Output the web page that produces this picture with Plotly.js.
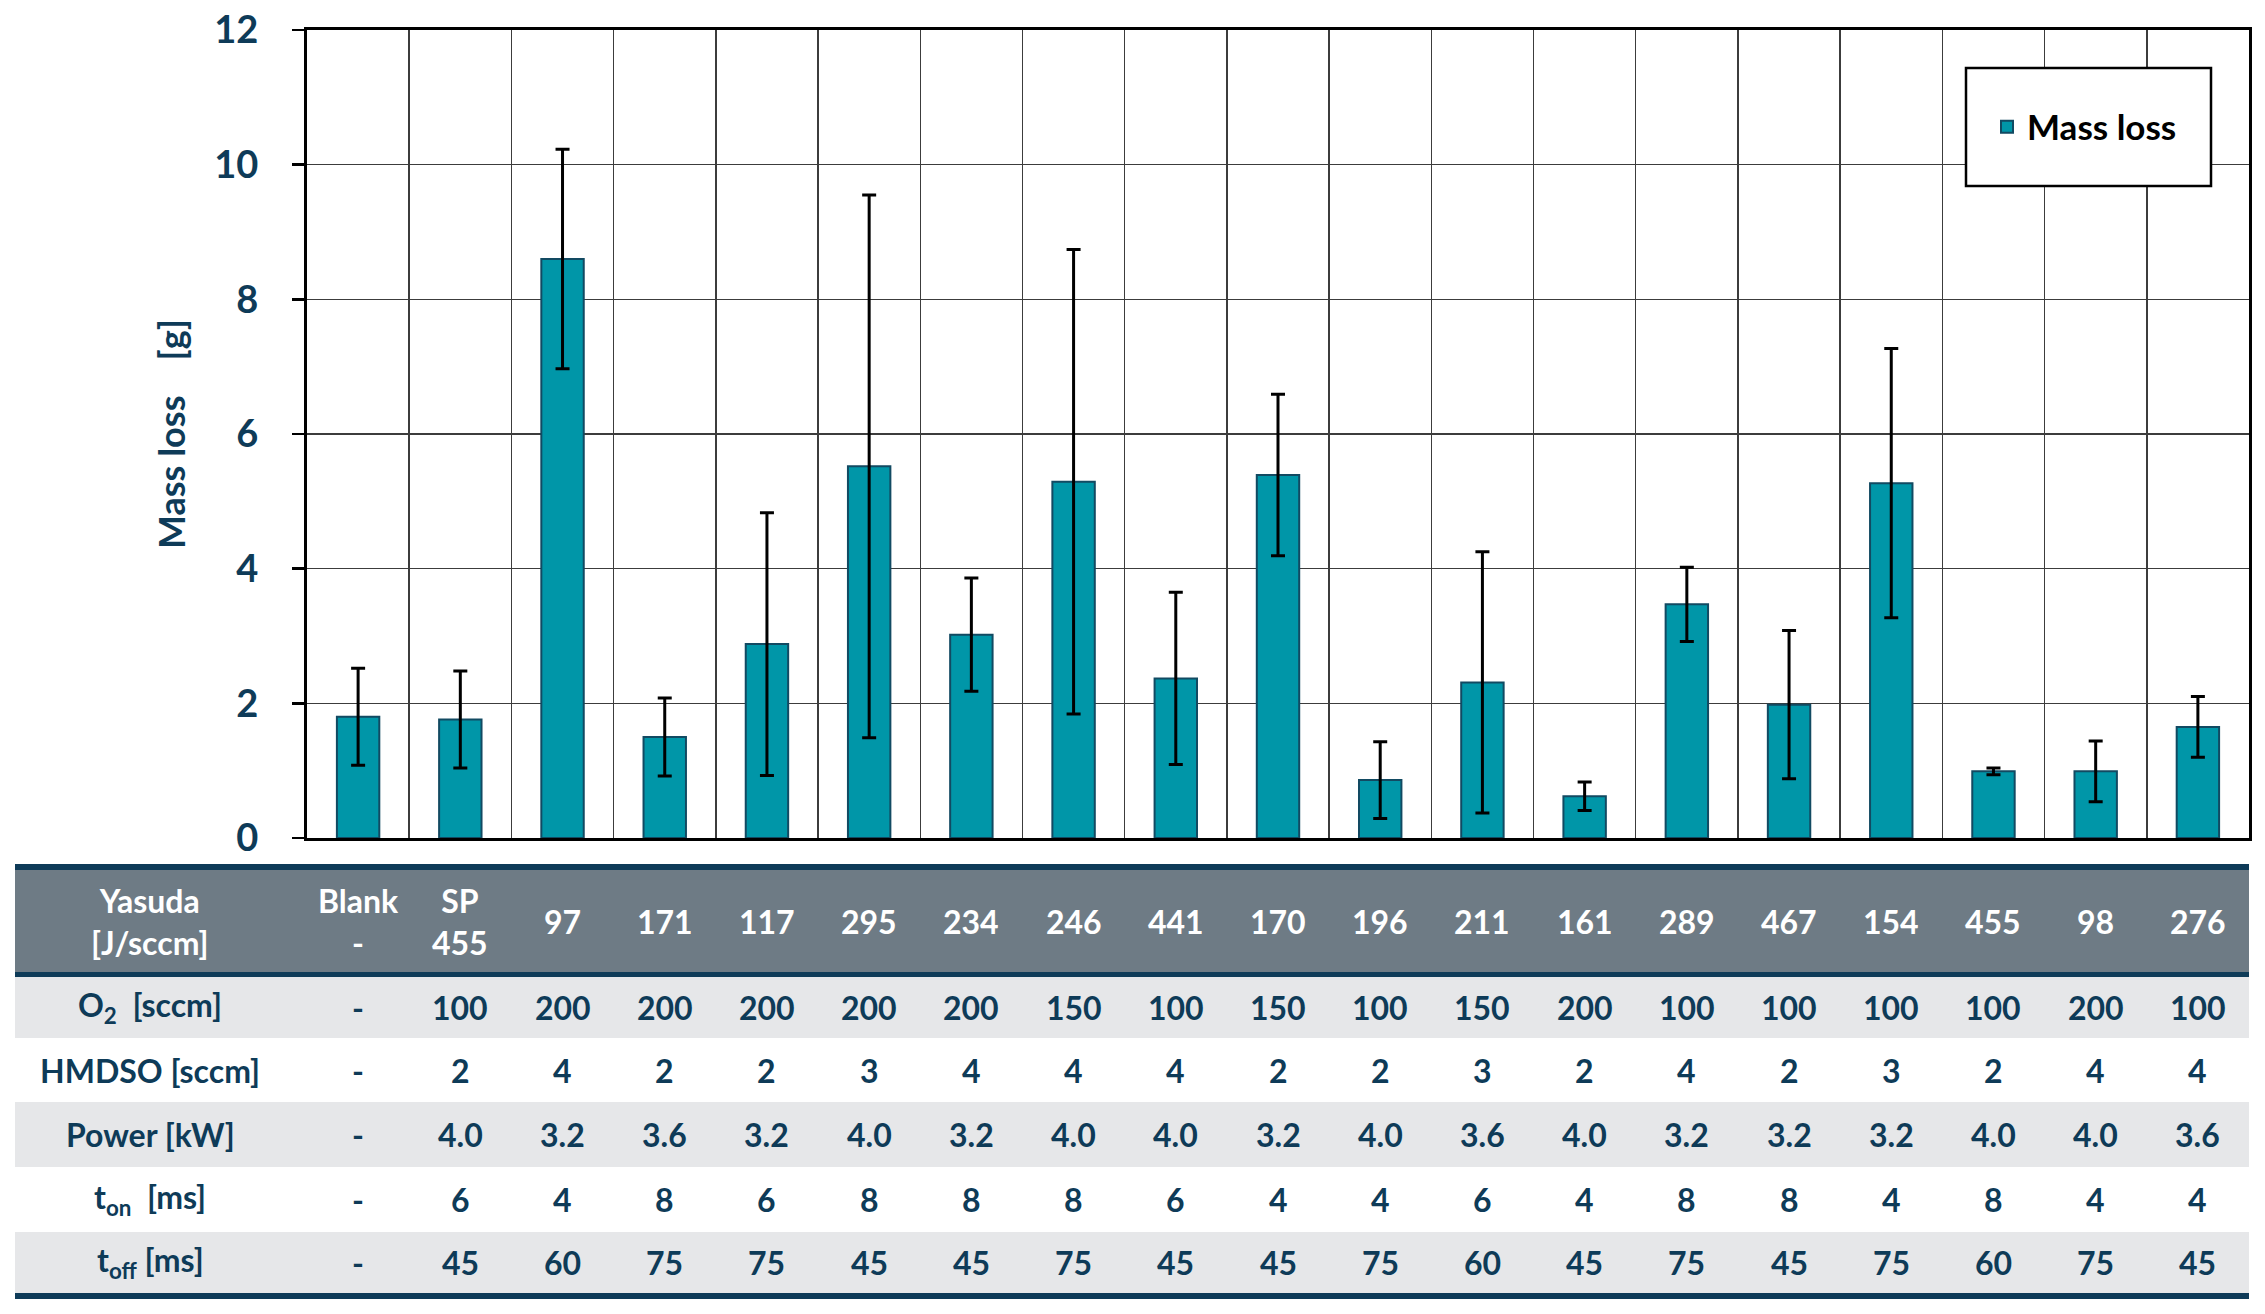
<!DOCTYPE html>
<html>
<head>
<meta charset="utf-8">
<script src="https://cdn.plot.ly/plotly-3.0.1.min.js"></script>
<style>
  html, body { margin: 0; padding: 0; background: #fff; }
</style>
</head>
<body>
<div id="chart" style="width:2265px;height:1314px;"></div>
<script>
// categories (Yasuda parameter of each run)
const yasuda = ['Blank', 'SP 455', '97', '171', '117', '295', '234', '246', '441', '170',
  '196', '211', '161', '289', '467', '154', '455', '98', '276'];
const yasudaHeader = ['Blank<br>-', 'SP<br>455', '97', '171', '117', '295', '234', '246', '441', '170',
  '196', '211', '161', '289', '467', '154', '455', '98', '276'];

// mass loss [g] and its error
const massLoss = [1.80, 1.76, 8.60, 1.50, 2.88, 5.52, 3.02, 5.29, 2.37, 5.39,
  0.86, 2.31, 0.62, 3.47, 1.98, 5.27, 0.99, 0.99, 1.65];
const massErr = [0.72, 0.72, 1.63, 0.58, 1.95, 4.03, 0.84, 3.45, 1.28, 1.20,
  0.57, 1.94, 0.21, 0.55, 1.10, 2.00, 0.05, 0.45, 0.45];

// process parameters under the chart
const o2 = ['-', '100', '200', '200', '200', '200', '200', '150', '100', '150',
  '100', '150', '200', '100', '100', '100', '100', '200', '100'];
const hmdso = ['-', '2', '4', '2', '2', '3', '4', '4', '4', '2',
  '2', '3', '2', '4', '2', '3', '2', '4', '4'];
const power = ['-', '4.0', '3.2', '3.6', '3.2', '4.0', '3.2', '4.0', '4.0', '3.2',
  '4.0', '3.6', '4.0', '3.2', '3.2', '3.2', '4.0', '4.0', '3.6'];
const tOn = ['-', '6', '4', '8', '6', '8', '8', '8', '6', '4',
  '4', '6', '4', '8', '8', '4', '8', '4', '4'];
const tOff = ['-', '45', '60', '75', '75', '45', '45', '75', '45', '45',
  '75', '60', '45', '75', '45', '75', '60', '75', '45'];

const rowLabels = ['Yasuda<br>[J/sccm]', 'O<sub>2</sub>&nbsp; [sccm]', 'HMDSO [sccm]',
  'Power [kW]', 't<sub>on</sub>&nbsp; [ms]', 't<sub>off</sub> [ms]'];

const FONT = 'Lato, "Open Sans", sans-serif';
const NAVY = '#0e3b58';

// page pixels -> paper coords (plot area 307..2249 x 30..838)
const PL = 307, PR = 2249, PT = 30, PB = 838;
const px = (p) => (p - PL) / (PR - PL);
const py = (p) => (PB - p) / (PB - PT);

const shapes = [];
function band(top, bottom, color) {
  shapes.push({
    type: 'rect', xref: 'paper', yref: 'paper',
    x0: px(15), x1: px(2249), y0: py(bottom), y1: py(top),
    fillcolor: color, line: { width: 0 }, layer: 'above',
  });
}
band(864, 870, NAVY);
band(870, 972, '#6e7b85');
band(972, 977, NAVY);
band(977, 1038, '#e6e7e9');
band(1102, 1167, '#e6e7e9');
band(1232, 1293, '#e6e7e9');
band(1293, 1299, NAVY);

// legend frame
shapes.push({
  type: 'rect', xref: 'paper', yref: 'paper',
  x0: px(1966), x1: px(2211), y0: py(186), y1: py(68),
  fillcolor: '#fff', line: { color: '#000', width: 2.5 }, layer: 'above',
});

const annotations = [];
const rowCenters = [921, 1007, 1070, 1134, 1199, 1262];
const rows = [yasudaHeader, o2, hmdso, power, tOn, tOff];

rowLabels.forEach((label, r) => {
  const color = r === 0 ? '#fff' : NAVY;
  annotations.push({
    xref: 'paper', yref: 'paper', x: px(150), y: py(rowCenters[r]),
    text: label, showarrow: false, xanchor: 'center', yanchor: 'middle',
    font: { family: FONT, size: 32, weight: 700, color },
  });
  rows[r].forEach((val, i) => {
    // category index, so numeric-looking labels are not read as indices
    annotations.push({
      xref: 'x', yref: 'paper', x: i, y: py(rowCenters[r]),
      text: val, showarrow: false, xanchor: 'center', yanchor: 'middle',
      font: { family: FONT, size: 32, weight: 700, color },
    });
  });
});

const trace = {
  type: 'bar',
  name: 'Mass loss',
  x: yasuda,
  y: massLoss,
  width: 0.415,
  marker: { color: '#0096a8', line: { color: '#124a62', width: 2 } },
  error_y: { type: 'data', array: massErr, visible: true, color: '#000', thickness: 3, width: 7 },
};

const layout = {
  width: 2265,
  height: 1314,
  autosize: false,
  margin: { l: PL, r: 2265 - PR, t: PT, b: 1314 - PB, pad: 0 },
  paper_bgcolor: '#fff',
  plot_bgcolor: '#fff',
  font: { family: FONT, color: NAVY },
  showlegend: true,
  legend: {
    x: px(1987), y: py(127), xanchor: 'left', yanchor: 'middle',
    bgcolor: 'rgba(0,0,0,0)', borderwidth: 0,
    font: { family: FONT, size: 35, weight: 700, color: '#000' },
  },
  xaxis: {
    type: 'category',
    range: [-0.5, 18.5],
    tickson: 'boundaries',
    showticklabels: false,
    ticks: '',
    showgrid: true,
    gridcolor: '#3c3c3c',
    gridwidth: 1.5,
    showline: true,
    mirror: true,
    linecolor: '#000',
    linewidth: 3,
    fixedrange: true,
  },
  yaxis: {
    range: [0, 12],
    tick0: 0,
    dtick: 2,
    showgrid: true,
    gridcolor: '#3c3c3c',
    gridwidth: 1.5,
    zeroline: false,
    showline: true,
    mirror: true,
    linecolor: '#000',
    linewidth: 3,
    ticks: 'outside',
    ticklen: 12,
    tickwidth: 2.5,
    tickcolor: '#000',
    ticklabelstandoff: 26,
    tickfont: { family: FONT, size: 38, weight: 700, color: NAVY },
    title: {
      text: 'Mass loss&nbsp;&nbsp;&nbsp; [g]',
      standoff: 18,
      font: { family: FONT, size: 36, weight: 700, color: NAVY },
    },
    fixedrange: true,
  },
  shapes,
  annotations,
};

Plotly.newPlot('chart', [trace], layout, { displayModeBar: false, staticPlot: true });
</script>
</body>
</html>
